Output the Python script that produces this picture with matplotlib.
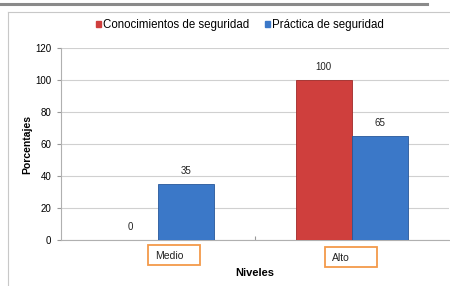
import numpy as np
import matplotlib.pyplot as plt
from matplotlib.patches import Rectangle
from matplotlib.lines import Line2D
from matplotlib.transforms import blended_transform_factory

plt.rcParams['font.family'] = ['Liberation Sans', 'DejaVu Sans']

# data
niveles = ['Medio', 'Alto']
conocimientos = [0, 100]
practica = [35, 65]
series_names = ['Conocimientos de seguridad', 'Práctica de seguridad']
red = '#cf3f3d'
blue = '#3b78c8'

fig = plt.figure(figsize=(4.5, 2.86), dpi=100)

# outer decoration: grey rule on top and chart frame
fig.add_artist(Line2D([0, 427 / 450], [1 - 4 / 286] * 2, color='#8a8a8a', lw=2.2))
fig.add_artist(Line2D([8 / 450, 8 / 450], [0, 1 - 12 / 286], color='#c8c8c8', lw=0.8))
fig.add_artist(Line2D([8 / 450, 1], [1 - 12 / 286] * 2, color='#c8c8c8', lw=0.8))

ax = fig.add_axes([61 / 450, 46 / 286, 388 / 450, 192 / 286])

x = np.arange(len(niveles))
w = 0.29
b1 = ax.bar(x - w / 2, conocimientos, w, color=red, edgecolor='#a02a28', lw=0.6,
            label=series_names[0], zorder=3)
b2 = ax.bar(x + w / 2, practica, w, color=blue, edgecolor='#27579a', lw=0.6,
            label=series_names[1], zorder=3)

for bars in (b1, b2):
    for r in bars:
        h = r.get_height()
        ax.text(r.get_x() + r.get_width() / 2, h + 5, f'{h:g}', ha='center',
                va='bottom', fontsize=7, color='#222222')

ax.set_xlim(-0.5, 1.5)
ax.set_ylim(0, 120)
ax.set_yticks(range(0, 121, 20))
ax.tick_params(axis='y', labelsize=7, length=3, color='#999999', pad=4)
ax.set_xticks([0.5])
ax.set_xticklabels([''])
ax.tick_params(axis='x', length=3, direction='in', color='#999999')
ax.grid(axis='y', color='#d0d0d0', lw=0.8, zorder=0)
for s in ['top', 'right']:
    ax.spines[s].set_visible(False)
ax.spines['left'].set_color('#b0b0b0')
ax.spines['bottom'].set_color('#b0b0b0')

# category labels in hand-placed orange boxes
trans = blended_transform_factory(ax.transData, ax.transAxes)
box_dx = [-0.05, -0.14]   # box left edge relative to category
box_y = [-0.13, -0.14]
for xi, name, dx, by in zip(x, niveles, box_dx, box_y):
    ax.add_patch(Rectangle((xi + dx, by), 0.268, 0.102, transform=trans, fill=False,
                           ec='#f39a4a', lw=1.3, clip_on=False))
    ax.text(xi + dx + 0.035, by + 0.045, name, transform=trans, ha='left', va='center',
            fontsize=7.5, color='#222222')

ax.set_xlabel('Niveles', fontsize=8, fontweight='bold', labelpad=17)
ax.set_ylabel('Porcentajes', fontsize=7.5, fontweight='bold', labelpad=2)

handles = [Rectangle((0, 0), 1, 1, color=red), Rectangle((0, 0), 1, 1, color=blue)]
fig.legend(handles, series_names, loc='center', bbox_to_anchor=(240 / 450, 1 - 25 / 286),
           ncol=2, frameon=False, fontsize=8.3, handlelength=0.45, handleheight=0.45,
           handletextpad=0.2, columnspacing=1.3)

fig.savefig('out.png', dpi=100)
